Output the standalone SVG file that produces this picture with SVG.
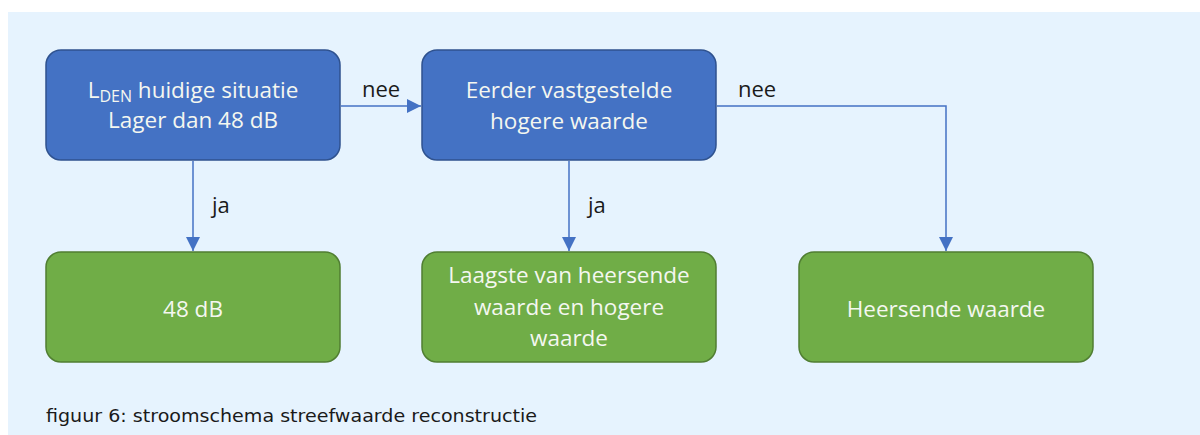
<svg xmlns="http://www.w3.org/2000/svg" width="1200" height="435" viewBox="0 0 1200 435">
<style>
.bg{fill:#e6f3fe}
.q{fill:#4472c4;stroke:#2f528f;stroke-width:1.5}
.r{fill:#70ad47;stroke:#507e32;stroke-width:1.5}
.t{font-family:"Open Sans","Liberation Sans",sans-serif;font-size:22.5px;fill:#f4f7f0;text-anchor:middle}
.l{font-family:"Open Sans","Liberation Sans",sans-serif;font-size:22px;fill:#1a1a1a}
.c{fill:none;stroke:#4472c4;stroke-width:1.5}
.cap{font-family:"DejaVu Sans",Verdana,sans-serif;font-size:18.5px;fill:#1a1a1a}
</style>
<defs>
<marker id="ah" viewBox="0 0 10 10" refX="10" refY="5" markerWidth="14" markerHeight="14" markerUnits="userSpaceOnUse" orient="auto">
<path d="M0,0 L10,5 L0,10 Z" fill="#4472c4"/>
</marker>
</defs>
<rect class="bg" x="8" y="12" width="1192" height="423"/>
<g id="connectors">
<path class="c" d="M193,161 V251" marker-end="url(#ah)"/>
<path class="c" d="M341,106 H421" marker-end="url(#ah)"/>
<path class="c" d="M569,161 V251" marker-end="url(#ah)"/>
<path class="c" d="M717,106 H946 V251" marker-end="url(#ah)"/>
<text class="l" x="212" y="213">ja</text>
<text class="l" x="362" y="97">nee</text>
<text class="l" x="588" y="213">ja</text>
<text class="l" x="738" y="97">nee</text>
</g>
<g id="n1">
<rect class="q" x="46" y="50" width="294" height="110" rx="15"/>
<text class="t" x="193" y="98">L<tspan font-size="16" dy="4">DEN</tspan><tspan dy="-4"> huidige situatie</tspan></text>
<text class="t" x="193" y="128">Lager dan 48 dB</text>
</g>
<g id="n2">
<rect class="q" x="422" y="50" width="294" height="110" rx="15"/>
<text class="t" x="569" y="98">Eerder vastgestelde</text>
<text class="t" x="569" y="129">hogere waarde</text>
</g>
<g id="n3">
<rect class="r" x="46" y="252" width="294" height="110" rx="15"/>
<text class="t" x="193" y="317">48 dB</text>
</g>
<g id="n4">
<rect class="r" x="422" y="252" width="294" height="110" rx="15"/>
<text class="t" x="569" y="283">Laagste van heersende</text>
<text class="t" x="569" y="315">waarde en hogere</text>
<text class="t" x="569" y="346">waarde</text>
</g>
<g id="n5">
<rect class="r" x="799" y="252" width="294" height="110" rx="15"/>
<text class="t" x="946" y="317">Heersende waarde</text>
</g>
<text class="cap" x="46" y="422" textLength="491" lengthAdjust="spacingAndGlyphs">figuur 6: stroomschema streefwaarde reconstructie</text>
</svg>
